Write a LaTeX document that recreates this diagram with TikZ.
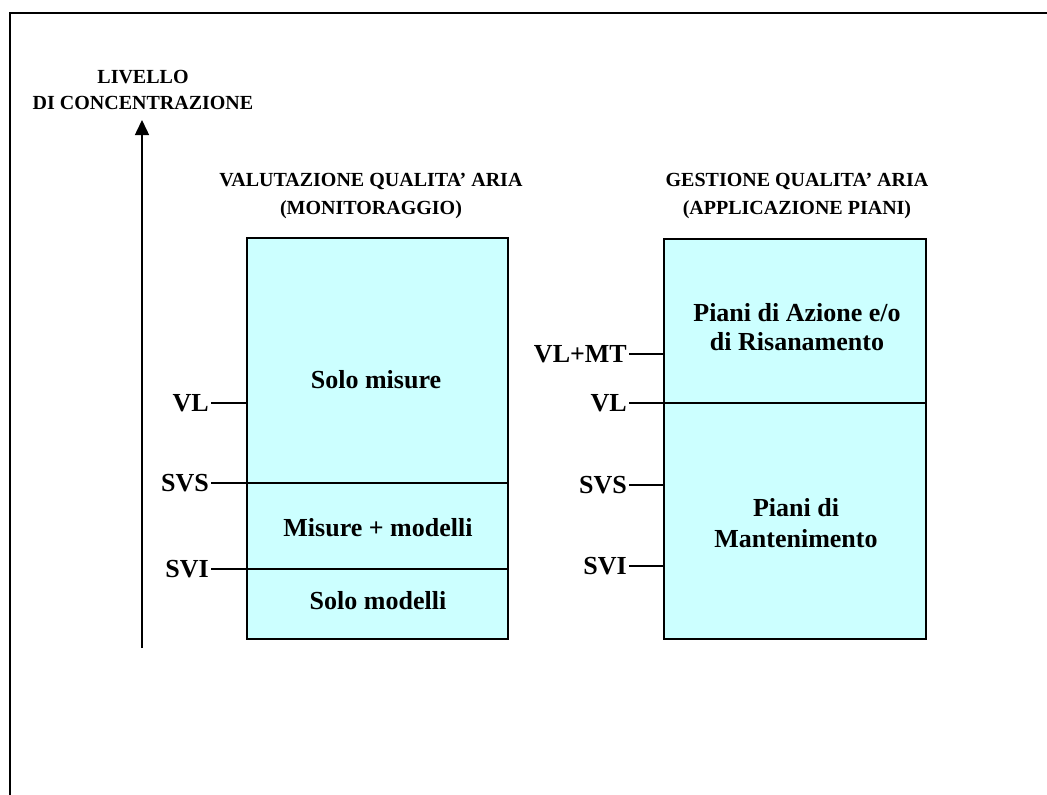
\documentclass[tikz,border=0pt]{standalone}
\usepackage{fontspec}
\setmainfont{Liberation Serif}
\usetikzlibrary{arrows.meta}
\definecolor{boxfill}{HTML}{CCFFFF}
\definecolor{shadowgray}{HTML}{9A9A9A}
\begin{document}
\begin{tikzpicture}[x=1pt,y=-1pt,
  box/.style={draw=black,line width=2pt,fill=boxfill,anchor=north west,inner sep=0pt},
  tick/.style={line width=1.5pt},
  lab/.style={font=\fontsize{26}{28}\selectfont\bfseries,anchor=east,inner sep=2pt},
  boxtxt/.style={font=\fontsize{26}{29}\selectfont\bfseries,align=center,inner sep=0pt},
  ttl/.style={font=\fontsize{20}{28}\selectfont\bfseries,align=center,inner sep=0pt}]
\useasboundingbox (0,0) rectangle (1047,795);
% outer frame (cropped)
\draw[line width=2pt] (1047,13) -- (10,13) -- (10,795);
% axis
\coordinate (axb) at (142,648);
\coordinate (axt) at (142,120);
\draw[line width=1.5pt,-{Triangle[length=15pt,width=14pt]}] (axb) -- (axt);
\node[ttl,font=\fontsize{20}{26}\selectfont\bfseries] (axlab) at (143,90) {LIVELLO\\DI CONCENTRAZIONE};
% titles
\node[ttl] (t1) at (371,196) {VALUTAZIONE QUALITA' ARIA\\(MONITORAGGIO)};
\node[ttl] (t2) at (797,196) {GESTIONE QUALITA' ARIA\\(APPLICAZIONE PIANI)};
% shadows
\fill[shadowgray] (248,239) rectangle (509,640);
\fill[shadowgray] (665,240) rectangle (927,640);
% boxes
\node[box,minimum width=261pt,minimum height=401pt] (lbox) at (246,237) {};
\node[box,minimum width=262pt,minimum height=400pt] (rbox) at (663,238) {};
% left labels and lines
\node[lab] (lvl) at (211,403) {VL};
\node[lab] (lsvs) at (211,483) {SVS};
\node[lab] (lsvi) at (211,569) {SVI};
\draw[tick] (lvl.east) -- (lvl.east -| lbox.west);
\draw[tick] (lsvs.east) -- (lsvs.east -| lbox.east);
\draw[tick] (lsvi.east) -- (lsvi.east -| lbox.east);
% left box texts
\node[boxtxt] (lt1) at (376,380) {Solo misure};
\node[boxtxt] (lt2) at (378,528) {Misure + modelli};
\node[boxtxt] (lt3) at (378,601) {Solo modelli};
% right labels and lines
\node[lab] (rvlmt) at (629,354) {VL+MT};
\node[lab] (rvl) at (629,403) {VL};
\node[lab] (rsvs) at (629,485) {SVS};
\node[lab] (rsvi) at (629,566) {SVI};
\draw[tick] (rvlmt.east) -- (rvlmt.east -| rbox.west);
\draw[tick] (rvl.east) -- (rvl.east -| rbox.east);
\draw[tick] (rsvs.east) -- (rsvs.east -| rbox.west);
\draw[tick] (rsvi.east) -- (rsvi.east -| rbox.west);
% right box texts
\node[boxtxt] (rt1) at (797,327) {Piani di Azione e/o\\di Risanamento};
\node[boxtxt,font=\fontsize{26}{31}\selectfont\bfseries] (rt2) at (796,523) {Piani di\\Mantenimento};
\end{tikzpicture}
\end{document}
